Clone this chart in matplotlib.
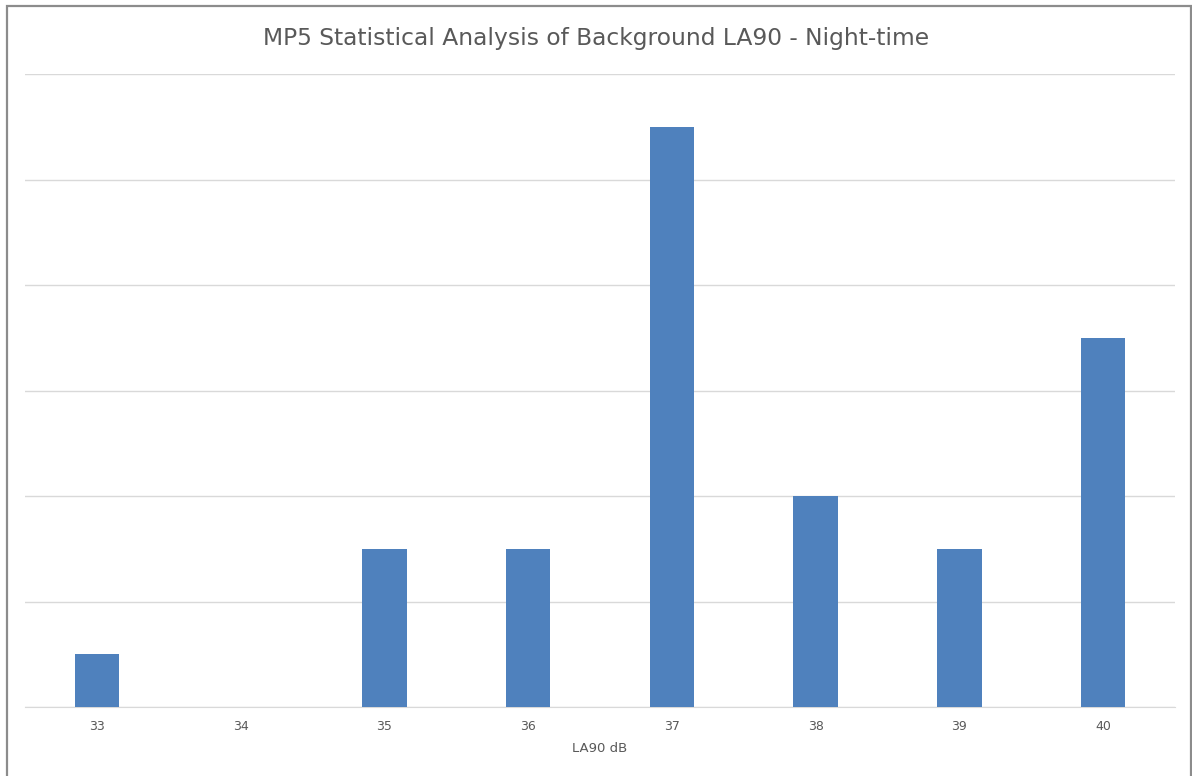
import matplotlib.pyplot as plt
from matplotlib.patches import Rectangle

# LA90 levels (dB) and count of night-time periods
levels = ["33", "34", "35", "36", "37", "38", "39", "40"]
counts = [1, 0, 3, 3, 11, 4, 3, 7]

W, H = 1192, 776
fig = plt.figure(figsize=(W / 100, H / 100), dpi=100)
ax = fig.add_axes([25 / W, 69 / H, 1150 / W, 633 / H])

text_col = "#595959"
ax.bar(range(len(levels)), counts, width=0.31, color="#4f81bd", zorder=3)
ax.set_xlim(-0.5, len(levels) - 0.5)
ax.set_ylim(0, 12)
ax.set_yticks(range(0, 13, 2))
ax.tick_params(axis="y", left=False, labelleft=False)
ax.set_xticks(range(len(levels)))
ax.set_xticklabels(levels, fontsize=9, color=text_col)
ax.tick_params(axis="x", length=0, pad=9)
ax.grid(axis="y", color="#d9d9d9", lw=1.0, zorder=0)
for s in ("top", "right", "left"):
    ax.spines[s].set_visible(False)
ax.spines["bottom"].set_color("#d9d9d9")
ax.set_xlabel("LA90 dB", fontsize=9.5, color=text_col, labelpad=7)

fig.text(0.5, 1 - 38 / H, "MP5 Statistical Analysis of Background LA90 - Night-time",
         ha="center", va="center", fontsize=16.8, color=text_col)

# outer chart border (bottom edge is cut off in the original)
fig.patches.append(Rectangle((7 / W, -0.01), (1191 - 7) / W, 1.01 - 6 / H,
                             transform=fig.transFigure, fill=False,
                             edgecolor="#8c8c8c", lw=1.6))

fig.savefig("out.png", dpi=100)
